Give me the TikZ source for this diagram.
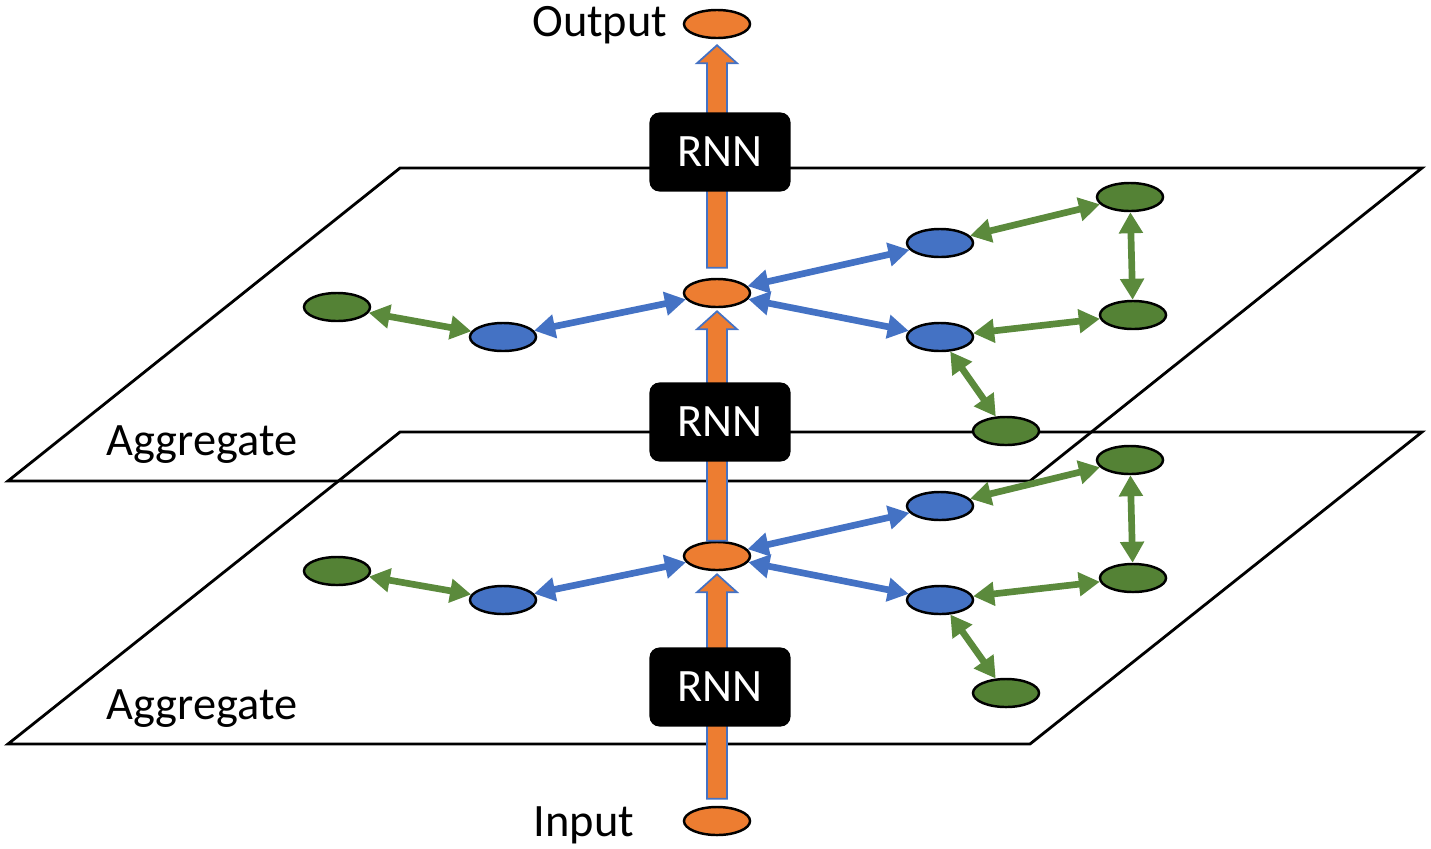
\documentclass[tikz,border=0pt]{standalone}
\usepackage{fontspec}
\setmainfont{Carlito}
\usetikzlibrary{arrows.meta,shapes.geometric,calc}
\definecolor{nodeorange}{HTML}{ED7D31}
\definecolor{nodeblue}{HTML}{4472C4}
\definecolor{nodegreen}{HTML}{548235}
\definecolor{edgegreen}{HTML}{5B8A3C}

% thick orange up-arrow from #1 to #2
\newcommand\fatarrow[2]{%
  \draw[color=nodeblue, line width=0.5pt, fill=nodeorange] ($(#1)+(-10,0)$) -- ($(#2)+(-10,18)$) -- ($(#2)+(-20,18)$) -- (#2) -- ($(#2)+(20,18)$) -- ($(#2)+(10,18)$) -- ($(#1)+(10,0)$) -- cycle;}

\begin{document}
\begin{tikzpicture}[x=0.01cm, y=-0.01cm, font=\fontsize{13.2}{15}\selectfont,
  onode/.style={ellipse, draw, line width=0.7pt, fill=nodeorange, minimum width=6.6mm, minimum height=2.8mm, inner sep=0pt},
  bnode/.style={onode, fill=nodeblue},
  gnode/.style={onode, fill=nodegreen},
  lbl/.style={inner sep=0pt},
  rnn/.style={fill=black, text=white, rounded corners=1mm, minimum width=14.1mm, minimum height=7.9mm},
  bedge/.style={draw=nodeblue, line width=1.9pt, {Triangle[length=2.1mm,width=2.3mm]}-{Triangle[length=2.1mm,width=2.3mm]}},
  gedge/.style={bedge, draw=edgegreen}]
	\useasboundingbox (0,0) rectangle (1431,848);
	% the two layers
	\draw[line width=0.8pt] (400,168) -- (1422,168) -- (1030,481) -- (8,481) -- cycle;
	\draw[line width=0.8pt] (400,432) -- (1422,432) -- (1030,744) -- (8,744) -- cycle;
	\node[lbl] at (202,445) {Aggregate};
	\node[lbl] at (202,709) {Aggregate};

	% input / output
	\node[onode] (out) at (717,24) {};
	\node[lbl, anchor=east] at (668,25) {Output};
	\node[onode] (in) at (717,821) {};
	\node[lbl] at (584,825) {Input};

	% upper layer
	\node[onode] (uc) at (717,293) {};
	\node[bnode] (ub1) at (503,337) {};
	\node[bnode] (ub2) at (940,243) {};
	\node[bnode] (ub3) at (940,337) {};
	\node[gnode] (ug0) at (337,307) {};
	\node[gnode] (ug1) at (1130,197) {};
	\node[gnode] (ug2) at (1133,315) {};
	\node[gnode] (ug3) at (1006,431) {};

	% lower layer
	\node[onode] (lc) at (717,556) {};
	\node[bnode] (lb1) at (503,600) {};
	\node[bnode] (lb2) at (940,506) {};
	\node[bnode] (lb3) at (940,600) {};
	\node[gnode] (lg0) at (337,571) {};
	\node[gnode] (lg1) at (1130,460) {};
	\node[gnode] (lg2) at (1133,578) {};
	\node[gnode] (lg3) at (1006,693) {};

	% RNN path
	\coordinate (inTop) at ($(in.north)+(0,-7)$);
	\coordinate (lcTip) at ($(lc.south)+(0,3)$);
	\coordinate (ucTip) at ($(uc.south)+(0,3)$);
	\coordinate (ucTop) at ($(uc.north)+(0,-10)$);
	\coordinate (outTip) at ($(out.south)+(0,6)$);
	\fatarrow{inTop}{lcTip}
	\fatarrow{lc.north}{ucTip}
	\fatarrow{ucTop}{outTip}
	\node[rnn] (rnn1) at (720,687) {RNN};
	\node[rnn] (rnn2) at (720,422) {RNN};
	\node[rnn] (rnn3) at (720,152) {RNN};

	% aggregation edges
	\draw[bedge] (uc) -- (ub1);
	\draw[bedge] (uc) -- (ub2);
	\draw[bedge] (uc) -- (ub3);
	\draw[gedge] (ug0) -- (ub1);
	\draw[gedge] (ub2) -- (ug1);
	\draw[gedge] (ug1) -- (ug2);
	\draw[gedge] (ub3) -- (ug2);
	\draw[gedge] (ub3) -- (ug3);

	\draw[bedge] (lc) -- (lb1);
	\draw[bedge] (lc) -- (lb2);
	\draw[bedge] (lc) -- (lb3);
	\draw[gedge] (lg0) -- (lb1);
	\draw[gedge] (lb2) -- (lg1);
	\draw[gedge] (lg1) -- (lg2);
	\draw[gedge] (lb3) -- (lg2);
	\draw[gedge] (lb3) -- (lg3);
\end{tikzpicture}
\end{document}
